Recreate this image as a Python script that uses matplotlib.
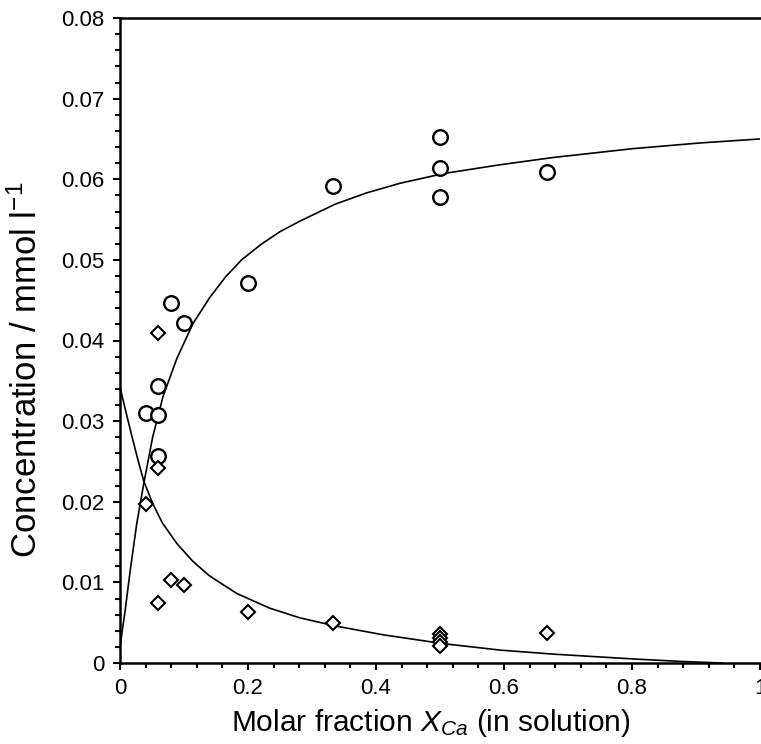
import matplotlib
matplotlib.use("Agg")
import matplotlib.pyplot as plt
from matplotlib.ticker import MultipleLocator, FuncFormatter

plt.rcParams['font.family'] = ['Liberation Sans', 'DejaVu Sans']
plt.rcParams['mathtext.fontset'] = 'custom'
plt.rcParams['mathtext.rm'] = 'Liberation Sans'
plt.rcParams['mathtext.it'] = 'Liberation Sans:italic'

# measured points (circles: rising species, diamonds: falling species)
circ_x = [0.04, 0.06, 0.06, 0.06, 0.08, 0.10, 0.20, 0.333, 0.50, 0.50, 0.50, 0.667]
circ_y = [0.0310, 0.0344, 0.0308, 0.0257, 0.0446, 0.0422, 0.0471, 0.0592,
          0.0652, 0.0614, 0.0578, 0.0609]

diam_x = [0.06, 0.06, 0.04, 0.08, 0.10, 0.06, 0.20, 0.333, 0.50, 0.50, 0.50, 0.50, 0.667]
diam_y = [0.0409, 0.0242, 0.0197, 0.0103, 0.0097, 0.0074, 0.0063, 0.0050,
          0.0036, 0.0031, 0.0026, 0.0021, 0.0037]

# fitted curves
rise_x = [0.0, 0.008, 0.016, 0.026, 0.037, 0.051, 0.067, 0.089, 0.114, 0.14,
          0.165, 0.19, 0.22, 0.25, 0.281, 0.336, 0.385, 0.4375, 0.505, 0.594,
          0.677, 0.802, 0.906, 1.0]
rise_y = [0.0020, 0.0065, 0.0115, 0.0172, 0.0222, 0.0280, 0.0330, 0.0378,
          0.0421, 0.0453, 0.0479, 0.0500, 0.0519, 0.0535, 0.0548, 0.0569,
          0.0583, 0.0595, 0.0607, 0.0618, 0.0627, 0.0638, 0.0645, 0.0650]

fall_x = [0.0, 0.010, 0.019, 0.028, 0.037, 0.051, 0.066, 0.089, 0.114, 0.14,
          0.183, 0.234, 0.281, 0.336, 0.411, 0.505, 0.594, 0.677, 0.802,
          0.875, 0.94]
fall_y = [0.0342, 0.0309, 0.0280, 0.0252, 0.0226, 0.0198, 0.0174, 0.0148,
          0.0126, 0.0108, 0.0086, 0.0068, 0.0056, 0.0046, 0.0035, 0.0024,
          0.0016, 0.0011, 0.0005, 0.0002, 0.0]

fig = plt.figure(figsize=(7.61, 7.44), dpi=100)
ax = fig.add_axes([120 / 761, 81 / 744, 640 / 761, 645 / 744])

ax.plot(rise_x, rise_y, color='black', lw=1.2)
ax.plot(fall_x, fall_y, color='black', lw=1.2)
ax.plot(circ_x, circ_y, 'o', ms=10.5, mfc='white', mec='black', mew=1.7, ls='none')
ax.plot(diam_x, diam_y, 'D', ms=7, mfc='white', mec='black', mew=1.5, ls='none')

ax.set_xlim(0, 1)
ax.set_ylim(0, 0.08)
ax.xaxis.set_major_locator(MultipleLocator(0.2))
ax.xaxis.set_minor_locator(MultipleLocator(0.04))
ax.yaxis.set_major_locator(MultipleLocator(0.01))
ax.yaxis.set_minor_locator(MultipleLocator(0.002))
fmt = FuncFormatter(lambda v, p: '%g' % round(v, 3))
ax.xaxis.set_major_formatter(fmt)
ax.yaxis.set_major_formatter(fmt)

ax.spines['right'].set_visible(False)
for s in ['left', 'bottom', 'top']:
    ax.spines[s].set_linewidth(1.8)
ax.tick_params(which='major', direction='out', length=5, width=1.5,
               labelsize=16, pad=6, top=False, right=False)
ax.tick_params(which='minor', direction='out', length=3.5, width=1.5,
               top=False, right=False)

ax.set_xlabel(r'Molar fraction $\mathit{X}_{\mathit{Ca}}$ (in solution)', fontsize=21.5, va='center')
ax.xaxis.set_label_coords((431 - 120) / 640, (663 - 723) / 645)
ax.set_ylabel(r'Concentration / mmol l$^{\mathregular{-1}}$', fontsize=25, va='center')
ax.yaxis.set_label_coords((27 - 120) / 640, (663 - 370) / 645)

fig.savefig('out.png', dpi=100)
